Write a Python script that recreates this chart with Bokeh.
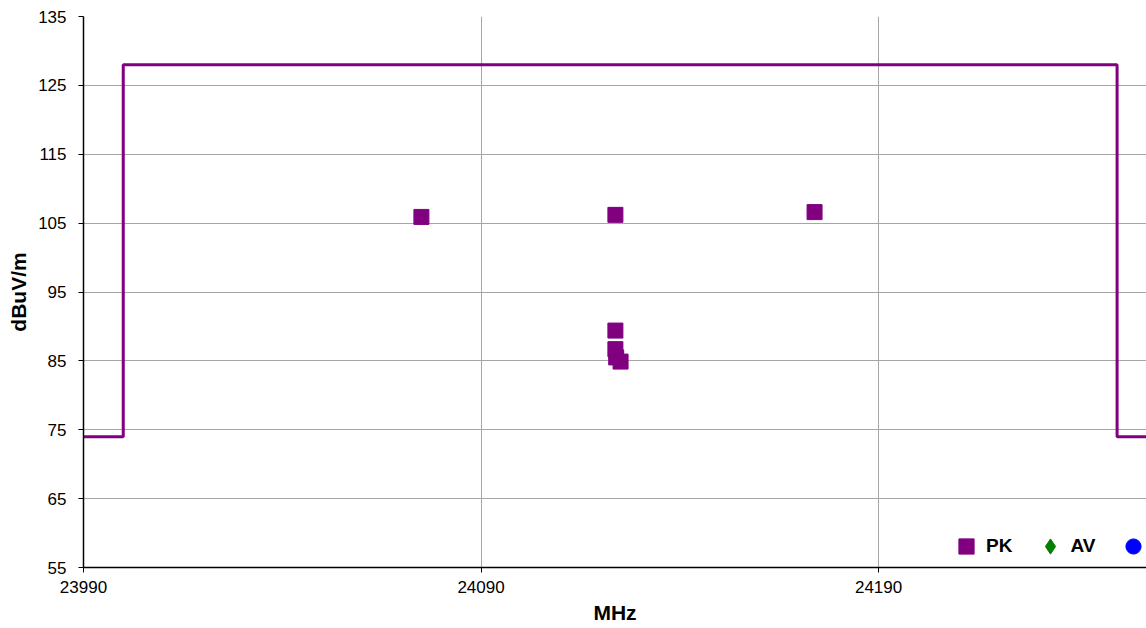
from bokeh.plotting import figure
from bokeh.models import FixedTicker, Range1d, Legend, LegendItem
from bokeh.embed import file_html
from bokeh.resources import INLINE

# ---- data ----
pk_freq = [24075.0, 24123.8, 24173.9, 24123.8, 24123.8, 24124.0, 24125.1]
pk_level = [105.9, 106.2, 106.6, 89.4, 86.7, 85.5, 84.9]
av_freq = [float("nan")]      # no AV readings shown
av_level = [float("nan")]
qp_freq = [float("nan")]      # no QP readings shown
qp_level = [float("nan")]
limit_freq = [23970, 24000, 24000, 24250, 24250, 24300]
limit_level = [74, 74, 128, 128, 74, 74]
x_ticks = [23990, 24090, 24190]
y_ticks = [55, 65, 75, 85, 95, 105, 115, 125, 135]

FONT = "Liberation Sans"
PURPLE = "#800080"

p = figure(width=1146, height=628, output_backend="svg", toolbar_location=None,
           x_range=Range1d(23990, 24257.4), y_range=Range1d(55, 135),
           min_border_left=83, min_border_right=0, min_border_top=16,
           min_border_bottom=61)
p.outline_line_color = None
p.background_fill_color = "white"

# limit line
p.line(limit_freq, limit_level, line_color=PURPLE, line_width=3)

pk = p.scatter(pk_freq, pk_level, marker="square", size=15, fill_color=PURPLE,
               line_color=PURPLE)
av = p.scatter(av_freq, av_level, marker="diamond", size=20, fill_color="#008000",
               line_color="#008000")
qp = p.scatter(qp_freq, qp_level, marker="circle", size=15, fill_color="#0000FF",
               line_color="#0000FF")

for ax in (p.xaxis[0], p.yaxis[0]):
    ax.axis_line_color = "black"
    ax.axis_line_width = 1.5
    ax.major_tick_line_color = "black"
    ax.major_tick_out = 5
    ax.major_tick_in = 0
    ax.minor_tick_line_color = None
    ax.major_label_text_font = FONT
    ax.major_label_text_font_size = "17px"
    ax.major_label_text_color = "black"
    ax.axis_label_text_font = FONT
    ax.axis_label_text_font_size = "21px"
    ax.axis_label_text_font_style = "bold"
    ax.axis_label_text_color = "black"

p.xaxis.ticker = FixedTicker(ticks=x_ticks)
p.yaxis.ticker = FixedTicker(ticks=y_ticks)
p.xaxis.axis_label = "MHz"
p.yaxis.axis_label = "dBuV/m"
p.xaxis.major_label_standoff = 8
p.xaxis.axis_label_standoff = 5
p.yaxis.major_label_standoff = 12
p.yaxis.axis_label_standoff = 5

p.xgrid.grid_line_color = "#a6a6a6"
p.ygrid.grid_line_color = "#a6a6a6"
p.xgrid.grid_line_width = 1
p.ygrid.grid_line_width = 1

legend = Legend(items=[LegendItem(label="PK", renderers=[pk]),
                       LegendItem(label="AV", renderers=[av]),
                       LegendItem(label="QP", renderers=[qp])],
                orientation="horizontal", location=(864, 2))
legend.border_line_color = None
legend.background_fill_alpha = 0
legend.padding = 0
legend.margin = 0
legend.spacing = 19
legend.glyph_width = 38
legend.glyph_height = 38
legend.label_standoff = 1
legend.label_text_font = FONT
legend.label_text_font_size = "19px"
legend.label_text_font_style = "bold"
legend.label_text_color = "black"
p.add_layout(legend, "center")

open("out.html", "w").write(file_html(p, INLINE))
